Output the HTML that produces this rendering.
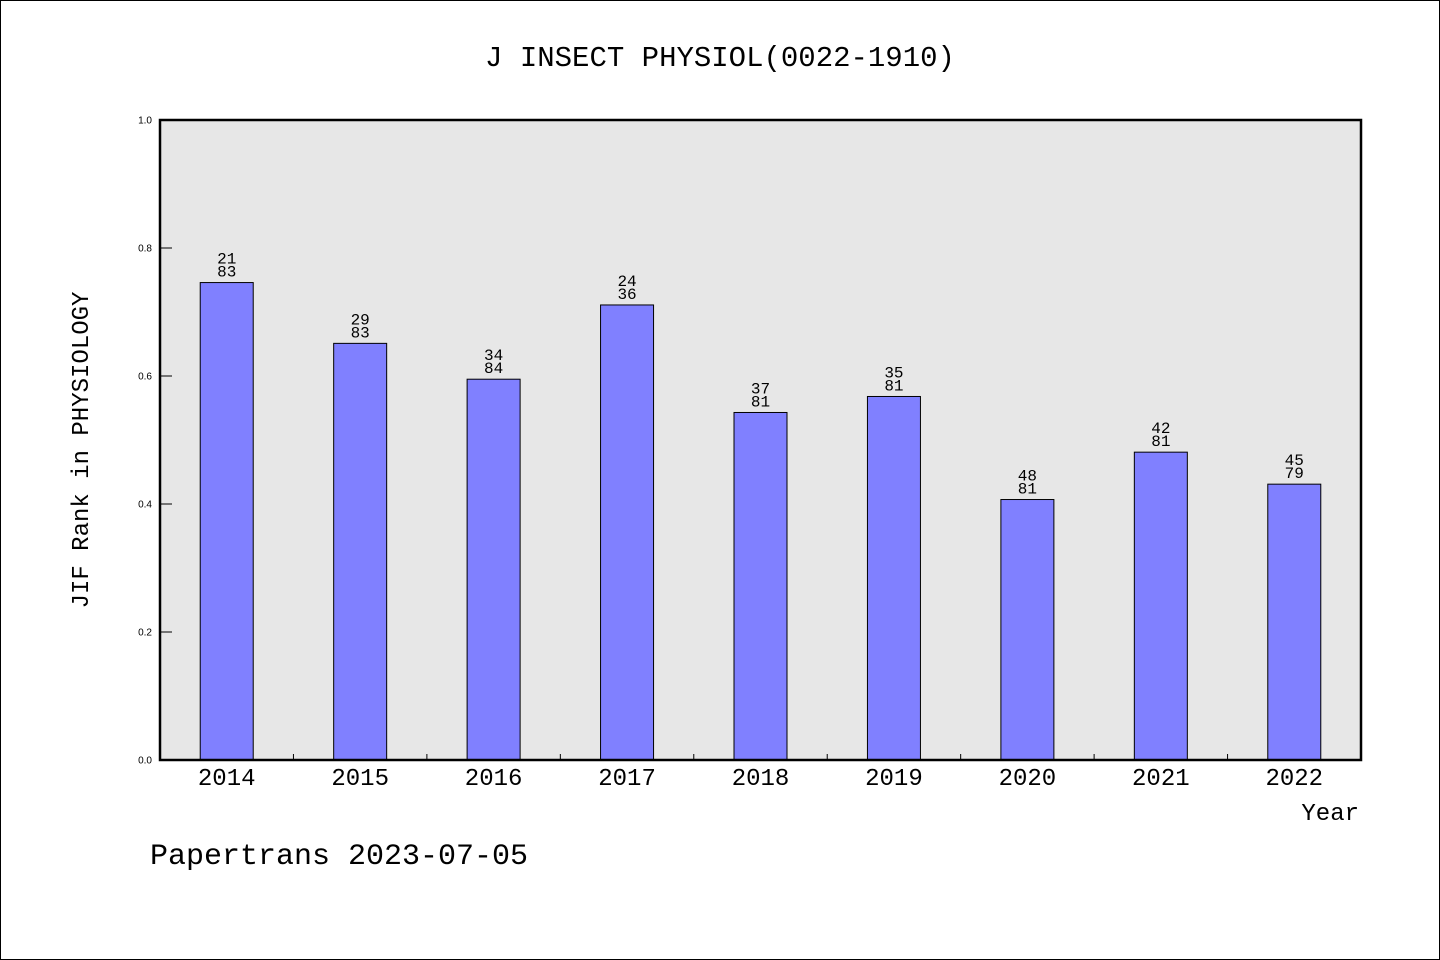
<!DOCTYPE html>
<html><head><meta charset="utf-8"><style>
body{margin:0;background:#fff}
svg{display:block}
text{font-family:"Liberation Mono","WenQuanYi Zen Hei",monospace;fill:#000}
</style></head><body>
<svg width="1440" height="960" xmlns="http://www.w3.org/2000/svg">
<rect x="0.5" y="0.5" width="1439" height="959" fill="#fff" stroke="#000"/>
<text x="720" y="66" font-size="29" text-anchor="middle">J INSECT PHYSIOL(0022-1910)</text>
<rect x="160" y="120" width="1201" height="640" fill="#e7e7e7"/>
<g id="yaxis"></g>
<g id="bars"></g>
<rect x="160" y="120" width="1201" height="640" fill="none" stroke="#000" stroke-width="2.5"/>
<text transform="translate(88,450) rotate(-90)" font-size="24" text-anchor="middle">JIF Rank in PHYSIOLOGY</text>
<text x="1359" y="820" font-size="24" text-anchor="end">Year</text>
<text x="150" y="864" font-size="30">Papertrans 2023-07-05</text>
</svg>
<script>
const categories=["2014","2015","2016","2017","2018","2019","2020","2021","2022"];
const values=[0.746,0.651,0.595,0.711,0.543,0.568,0.407,0.481,0.431];
const ranks=["21","29","34","24","37","35","48","42","45"];
const totals=["83","83","84","36","81","81","81","81","79"];
const yTicks=["0.0","0.2","0.4","0.6","0.8","1.0"];
const NS="http://www.w3.org/2000/svg";
const x0=160,x1=1361,yTop=120,yBot=760;
const y=v=>yBot-(v)*(yBot-yTop);
const step=(x1-x0)/categories.length;
const xc=i=>x0+step*(i+0.5);
function mk(t,a,p){const e=document.createElementNS(NS,t);for(const k in a)e.setAttribute(k,a[k]);p.appendChild(e);return e;}
const ya=document.getElementById('yaxis');
yTicks.forEach(t=>{const v=parseFloat(t);
const l=mk('line',{x1:160,x2:172,y1:y(v),y2:y(v),stroke:'#000'},ya);


const tx=mk('text',{x:152,y:y(v)+3.5,'font-size':10,'text-anchor':'end','style':'font-family:"Liberation Sans",sans-serif'},ya);tx.textContent=t;


});
const g=document.getElementById('bars');
categories.forEach((c,i)=>{
const bw=53,top=y(values[i]);
const r=mk('rect',{x:xc(i)-bw/2,y:top,width:bw,height:yBot-top,fill:'#8080ff',stroke:'#000','stroke-width':1},g);


const a=mk('text',{x:xc(i),y:top-19,'font-size':16,'text-anchor':'middle'},g);a.textContent=ranks[i];


const b=mk('text',{x:xc(i),y:top-6,'font-size':16,'text-anchor':'middle'},g);b.textContent=totals[i];


const xl=mk('text',{x:xc(i),y:785,'font-size':24,'text-anchor':'middle'},g);xl.textContent=c;


if(i>0){const t=mk('line',{x1:x0+step*i,x2:x0+step*i,y1:754,y2:760,stroke:'#000'},g);

}
});
</script>
</body></html>
